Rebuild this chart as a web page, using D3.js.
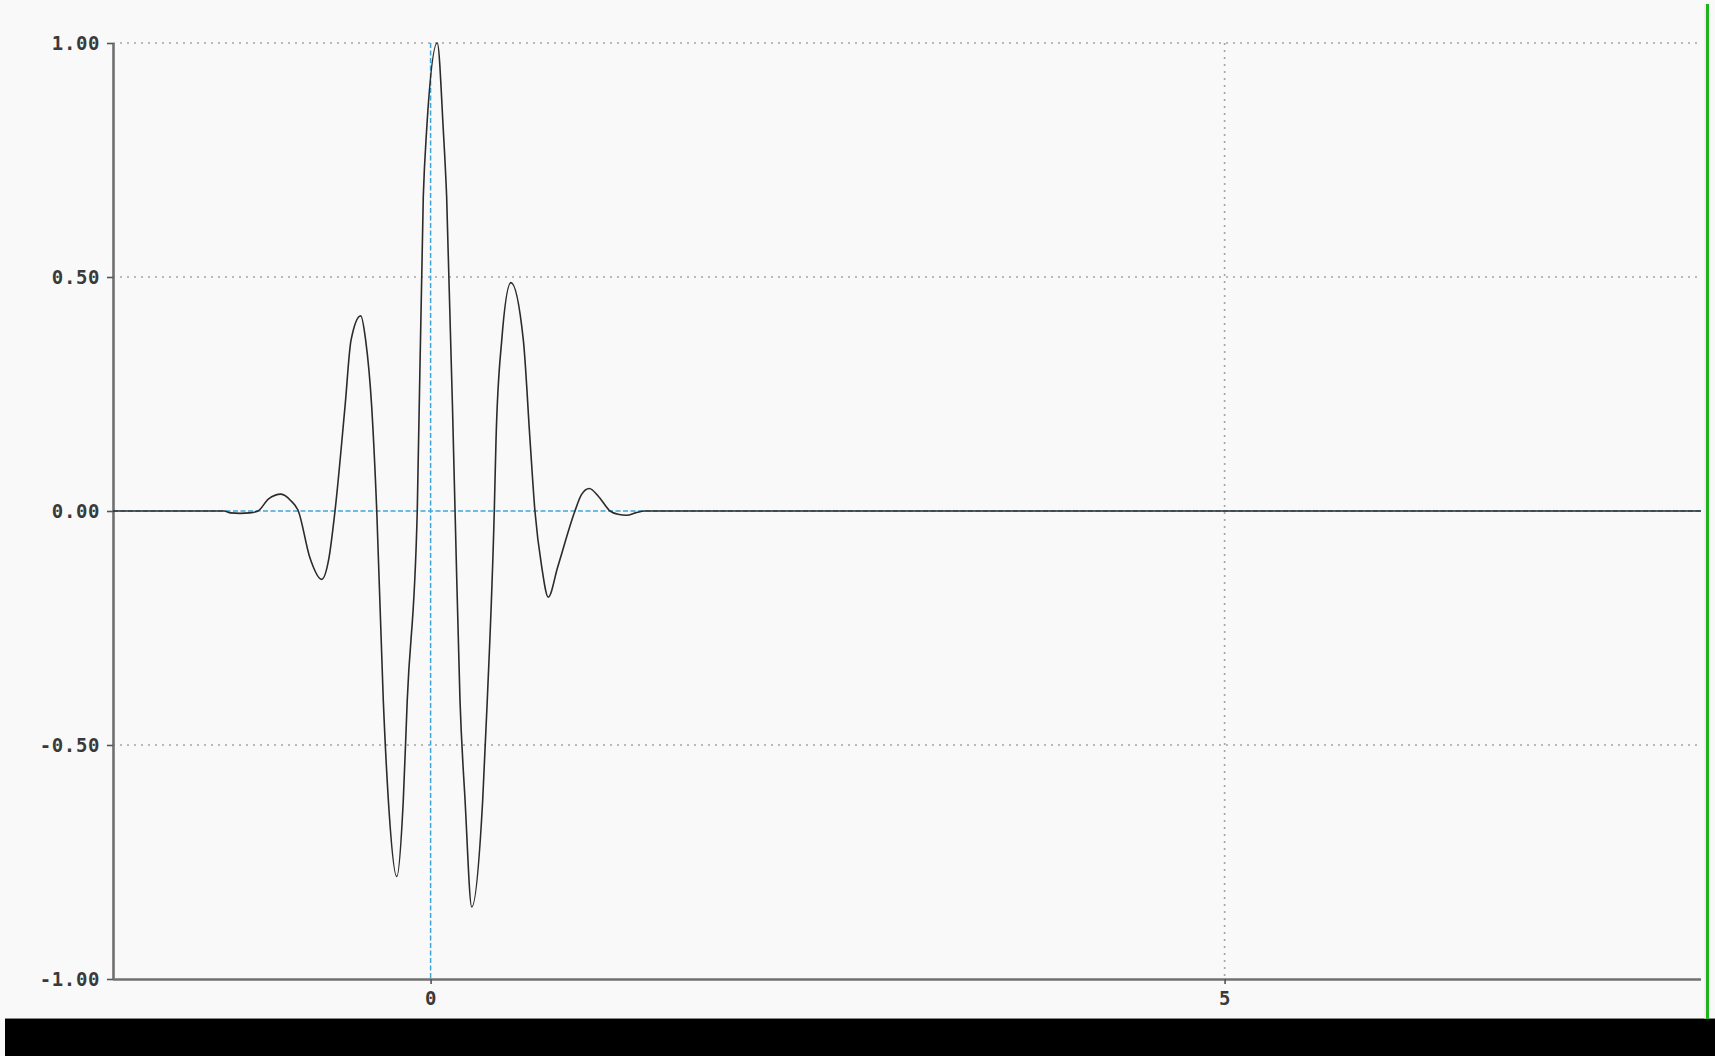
<!DOCTYPE html>
<html>
<head>
<meta charset="utf-8">
<script src="https://cdn.jsdelivr.net/npm/d3@7"></script>
<style>
  html, body { margin: 0; padding: 0; background: #f9f9f9; overflow: hidden; }
  svg { display: block; }
  .tick text { font-family: "DejaVu Sans Mono", monospace; font-weight: bold; font-size: 19px; fill: #3a3a3a; letter-spacing: 0.6px; }
</style>
</head>
<body>
<svg id="chart" width="1715" height="1056"></svg>
<script>
// Wavelet samples: time (x) and amplitude (y)
const waveT = [-2.00, -1.30, -1.26, -1.20, -1.14, -1.087, -1.02, -0.942, -0.88, -0.833,
  -0.76, -0.686, -0.64, -0.602, -0.539, -0.501, -0.440, -0.409, -0.371, -0.339,
  -0.298, -0.266, -0.213, -0.172, -0.147, -0.084, -0.046, -0.025, 0.042, 0.080,
  0.101, 0.154, 0.185, 0.217, 0.259, 0.328, 0.357, 0.401, 0.412, 0.448,
  0.506, 0.584, 0.626, 0.657, 0.70, 0.741, 0.80, 0.909, 0.95, 0.999,
  1.06, 1.13, 1.18, 1.235, 1.29, 1.35, 8.00];
const waveV = [0, 0, -0.004, -0.005, -0.004, 0, 0.026, 0.036, 0.022, 0,
  -0.10, -0.146, -0.10, 0, 0.223, 0.365, 0.417, 0.365, 0.223, 0,
  -0.404, -0.618, -0.781, -0.618, -0.404, 0, 0.672, 0.814, 1.0, 0.814,
  0.672, 0, -0.404, -0.618, -0.846, -0.618, -0.404, 0, 0.152, 0.365,
  0.488, 0.365, 0.152, 0, -0.12, -0.184, -0.12, 0, 0.035, 0.048,
  0.030, 0, -0.007, -0.009, -0.004, 0, 0];

// Axes setup
const xDomain = [-2, 8];
const yDomain = [-1, 1];
const xTickValues = [0, 5];
const xTickLabels = ["0", "5"];
const yTickValues = [-1, -0.5, 0, 0.5, 1];
const yTickLabels = ["-1.00", "-0.50", "0.00", "0.50", "1.00"];
const yGridValues = [-0.5, 0.5, 1];
const xGridValues = [5];

const svg = d3.select("#chart");
const W = 1715, H = 1056;
const plot = { left: 113, right: 1701, top: 43, bottom: 979 };

const x = d3.scaleLinear().domain(xDomain).range([plot.left, plot.right]);
const y = d3.scaleLinear().domain(yDomain).range([plot.bottom, plot.top]);

svg.append("rect").attr("width", W).attr("height", H).attr("fill", "#f9f9f9");

// dotted grid
const grid = svg.append("g");
grid.selectAll("line.h").data(yGridValues).join("line")
  .attr("x1", plot.left).attr("x2", plot.right + 1)
  .attr("y1", d => y(d)).attr("y2", d => y(d))
  .attr("stroke", "#a4a4a4").attr("stroke-width", 1.6).attr("stroke-dasharray", "2,5");
grid.selectAll("line.v").data(xGridValues).join("line")
  .attr("x1", d => x(d)).attr("x2", d => x(d))
  .attr("y1", plot.top).attr("y2", plot.bottom)
  .attr("stroke", "#a4a4a4").attr("stroke-width", 1.6).attr("stroke-dasharray", "2,5");

// origin reference lines
svg.append("line")
  .attr("x1", plot.left).attr("x2", plot.right)
  .attr("y1", y(0)).attr("y2", y(0))
  .attr("stroke", "#3fa6dc").attr("stroke-width", 1.5).attr("stroke-dasharray", "5,2.5");
svg.append("line")
  .attr("x1", x(0)).attr("x2", x(0))
  .attr("y1", plot.top).attr("y2", plot.bottom)
  .attr("stroke", "#3fa6dc").attr("stroke-width", 1.5).attr("stroke-dasharray", "5,2.5");

// axes
const yAxis = d3.axisLeft(y).tickValues(yTickValues).tickSize(6).tickPadding(7)
  .tickFormat((d, i) => yTickLabels[i]);
const xAxis = d3.axisBottom(x).tickValues(xTickValues).tickSize(5).tickPadding(8)
  .tickFormat((d, i) => xTickLabels[i]);

const gy = svg.append("g").attr("transform", `translate(${plot.left},0)`).call(yAxis);
const gx = svg.append("g").attr("transform", `translate(0,${plot.bottom})`).call(xAxis);
[gy, gx].forEach(g => {
  g.select(".domain").attr("stroke", "#707070").attr("stroke-width", 2.6);
  g.selectAll(".tick line").attr("stroke", "#555").attr("stroke-width", 1.6);
});
gy.select(".domain").attr("d", `M0.5,${plot.top}V${plot.bottom}`);
gx.select(".domain").attr("d", `M${plot.left},0.5H${plot.right}`);
gy.selectAll(".tick text").attr("dy", "0.36em");

// wavelet curve
const pts = waveT.map((t, i) => [t, waveV[i]]);
const line = d3.line().x(d => x(d[0])).y(d => y(d[1])).curve(d3.curveMonotoneX);
svg.append("path").datum(pts)
  .attr("d", line)
  .attr("fill", "none")
  .attr("stroke", "#2b2b2b")
  .attr("stroke-width", 1.6)
  .attr("stroke-linejoin", "round");

// window frame: bottom strip and right edge
svg.append("rect").attr("x", 5).attr("y", 1019).attr("width", W - 5).attr("height", H - 1019).attr("fill", "#000");
svg.append("line").attr("x1", 5).attr("x2", W).attr("y1", 1018.5).attr("y2", 1018.5).attr("stroke", "#888").attr("stroke-width", 1);
svg.append("line").attr("x1", 1705).attr("x2", 1705).attr("y1", 4).attr("y2", 1019).attr("stroke", "#f2d8f2").attr("stroke-width", 1);
svg.append("line").attr("x1", 1707.5).attr("x2", 1707.5).attr("y1", 4).attr("y2", 1019).attr("stroke", "#1fb21f").attr("stroke-width", 3);
</script>
</body>
</html>
